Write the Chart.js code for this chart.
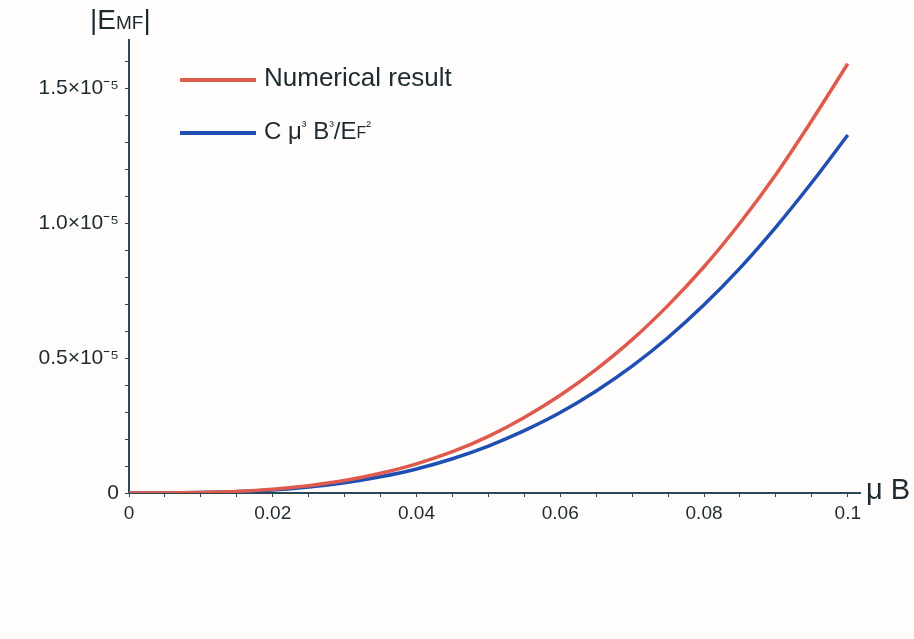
<!DOCTYPE html>
<html>
<head>
<meta charset="utf-8">
<script src="https://cdn.jsdelivr.net/npm/chart.js@4"></script>
<style>
  body { margin: 0; background: #fefdfc; }
  #wrap { width: 914px; height: 639px; }
</style>
</head>
<body>
<div id="wrap"><canvas id="emfChart" width="914" height="639"></canvas></div>
<script>
// mu*B values
const muB = [0, 0.005, 0.01, 0.015, 0.02, 0.025, 0.03, 0.035, 0.04, 0.045, 0.05,
             0.055, 0.06, 0.065, 0.07, 0.075, 0.08, 0.085, 0.09, 0.095, 0.1];
// |E_MF| in units of 1e-5
const numerical = [0, 0.0002, 0.002, 0.006, 0.014, 0.027, 0.046, 0.073, 0.108, 0.153, 0.21,
                   0.28, 0.362, 0.458, 0.568, 0.695, 0.838, 1.0, 1.18, 1.38, 1.59];
const approx = [0, 0.0002, 0.0014, 0.005, 0.011, 0.022, 0.038, 0.06, 0.089, 0.127, 0.174,
                0.231, 0.298, 0.378, 0.47, 0.576, 0.697, 0.833, 0.985, 1.15, 1.326];
const yTickLabels = { 0: '0', 5: '0.5×10⁻⁵', 10: '1.0×10⁻⁵', 15: '1.5×10⁻⁵' };
const xTickLabels = { 0: '0', 20: '0.02', 40: '0.04', 60: '0.06', 80: '0.08', 100: '0.1' };

const axisColor = '#2b4756';
const textColor = '#1d2a31';
const font = '"Liberation Sans", Arial, sans-serif';

const ctx = document.getElementById('emfChart').getContext('2d');

// legend + axis titles drawn inside the plot, like the original
const overlay = {
    id: 'overlay',
    afterDraw(chart) {
        const c = chart.ctx;
        c.save();
        c.textBaseline = 'middle';
        c.fillStyle = textColor;
        // legend
        const rows = [
            { color: chart.data.datasets[0].borderColor, y: 80 },
            { color: chart.data.datasets[1].borderColor, y: 133 }
        ];
        rows.forEach(r => {
            c.strokeStyle = r.color;
            c.lineWidth = 4;
            c.beginPath();
            c.moveTo(180, r.y);
            c.lineTo(256, r.y);
            c.stroke();
        });
        c.font = '500 26px ' + font;
        c.fillText('Numerical result', 264, 79);
        // C μ³ B³/E_F²
        let x = 264;
        const piece = (txt, size, dy) => {
            c.font = '500 ' + size + 'px ' + font;
            c.fillText(txt, x, 132 + dy);
            x += c.measureText(txt).width;
        };
        piece('C μ', 24, 0);
        piece('³', 14, -5);
        piece(' B', 24, 0);
        piece('³', 14, -5);
        piece('/E', 24, 0);
        piece('F', 16, 2);
        piece('²', 14, -5);
        // y title |E_MF|
        x = 90;
        const yt = 21;
        c.font = '28px ' + font;
        c.fillText('|E', x, yt); x += c.measureText('|E').width;
        c.font = '19px ' + font;
        c.fillText('MF', x, yt + 3); x += c.measureText('MF').width;
        c.font = '28px ' + font;
        c.fillText('|', x, yt);
        // x title
        c.font = '29px ' + font;
        c.fillText('μ B', 866, 491);
        c.restore();
    }
};

new Chart(ctx, {
    type: 'line',
    data: {
        datasets: [{
            label: 'Numerical result',
            data: muB.map((v, i) => ({ x: v, y: numerical[i] })),
            borderColor: '#de5a4c',
            borderWidth: 3.5,
            pointRadius: 0,
            cubicInterpolationMode: 'monotone'
        }, {
            label: 'C μ³ B³/EF²',
            data: muB.map((v, i) => ({ x: v, y: approx[i] })),
            borderColor: '#1f4fb3',
            borderWidth: 3.5,
            pointRadius: 0,
            cubicInterpolationMode: 'monotone'
        }]
    },
    options: {
        responsive: false,
        animation: false,
        layout: { padding: { top: 40, right: 54, left: 0, bottom: 0 } },
        plugins: { legend: { display: false }, tooltip: { enabled: false } },
        scales: {
            x: {
                type: 'linear',
                min: 0,
                max: 0.1017,
                afterFit(scale) { scale.height = 146; },
                border: { color: axisColor, width: 2 },
                grid: { drawOnChartArea: false, tickLength: 4, color: axisColor },
                ticks: {
                    stepSize: 0.005,
                    includeBounds: false,
                    autoSkip: false,
                    maxRotation: 0,
                    padding: 5,
                    color: textColor,
                    font: { family: font, size: 19 },
                    callback: v => xTickLabels[Math.round(v * 1000)] || ''
                }
            },
            y: {
                min: 0,
                max: 1.678,
                afterFit(scale) { scale.width = 129; },
                border: { color: axisColor, width: 2 },
                grid: { drawOnChartArea: false, tickLength: 4, color: axisColor },
                ticks: {
                    stepSize: 0.1,
                    includeBounds: false,
                    autoSkip: false,
                    padding: 6,
                    color: textColor,
                    font: { family: font, size: 21 },
                    callback: v => yTickLabels[Math.round(v * 10)] || ''
                }
            }
        }
    },
    plugins: [overlay]
});
</script>
</body>
</html>
